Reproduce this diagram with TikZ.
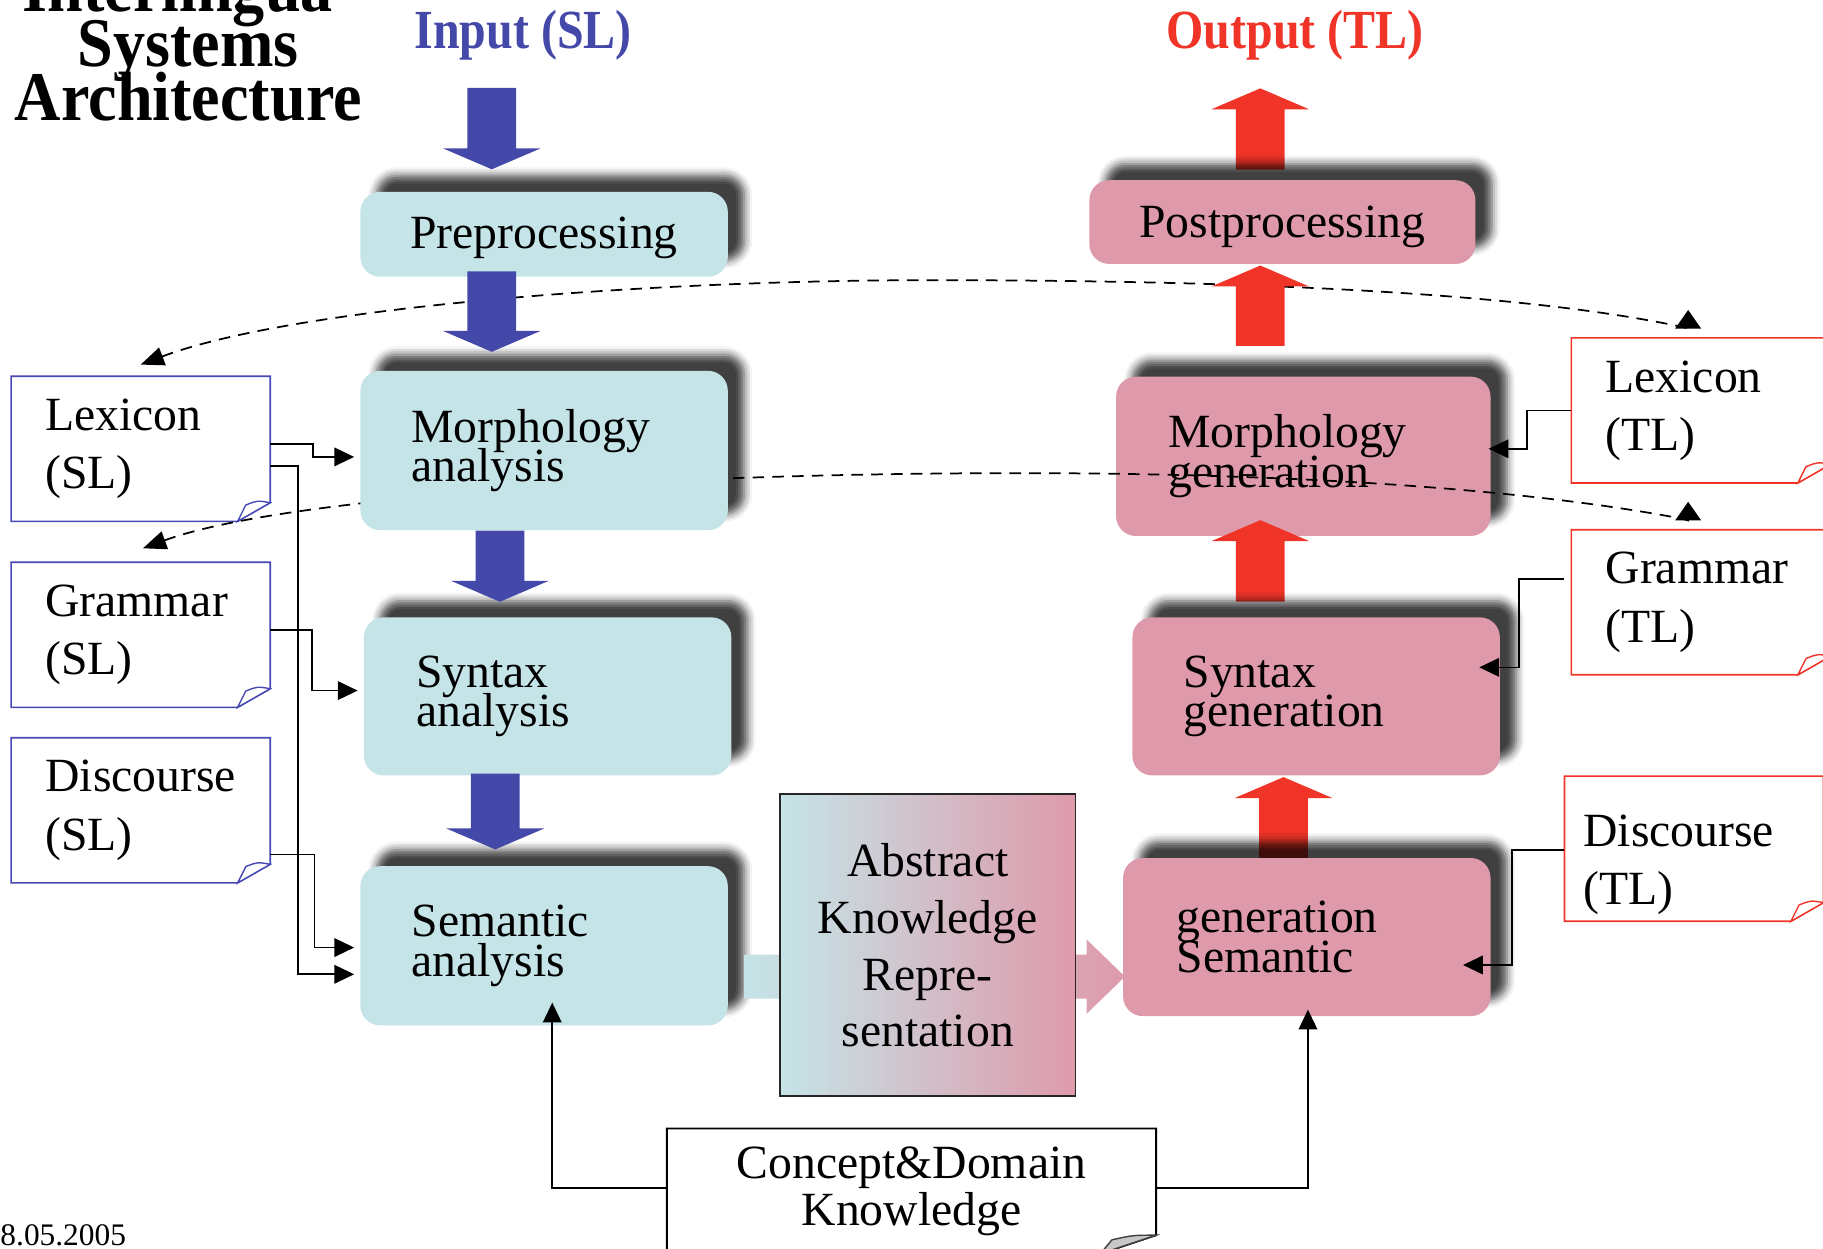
\documentclass[tikz,border=0pt]{standalone}
\usepackage{fontspec}
\usepackage{graphicx}
\setmainfont{Liberation Serif}
\usetikzlibrary{arrows.meta,calc,shadows.blur}

\definecolor{cyanbox}{RGB}{197,228,231}
\definecolor{pinkbox}{RGB}{222,154,171}
\definecolor{flowblue}{RGB}{68,72,168}
\definecolor{flowred}{RGB}{240,52,40}
\definecolor{docblue}{RGB}{70,72,180}
\definecolor{docred}{RGB}{240,52,40}

\newcommand\boxfont{\fontsize{20.5pt}{17pt}\selectfont\lineskiplimit=-40pt\relax}
\newcommand\docfont{\fontsize{20.5pt}{25pt}\selectfont\lineskiplimit=-40pt\relax}
\newcommand\absfont{\fontsize{20.5pt}{24.5pt}\selectfont\lineskiplimit=-40pt\relax}
\newcommand\concfont{\fontsize{20.5pt}{20pt}\selectfont\lineskiplimit=-40pt\relax}
\newcommand\titlefont{\fontsize{30pt}{23.5pt}\selectfont\bfseries\lineskiplimit=-40pt\relax}
\newcommand\headfont{\fontsize{23.7pt}{24pt}\selectfont\bfseries}

% fat block arrows: style, tail, tip
\newcommand\fatdown[3]{\fill[#1] let \p1=(#2), \p2=(#3) in
  (\x1-10.5pt,\y1) -- (\x1-10.5pt,\y2+9pt) -- (\x1-21pt,\y2+9pt) -- (\x1,\y2)
  -- (\x1+21pt,\y2+9pt) -- (\x1+10.5pt,\y2+9pt) -- (\x1+10.5pt,\y1) -- cycle;}
\newcommand\fatup[3]{\fill[#1] let \p1=(#2), \p2=(#3) in
  (\x1-10.5pt,\y1) -- (\x1-10.5pt,\y2-9pt) -- (\x1-21pt,\y2-9pt) -- (\x1,\y2)
  -- (\x1+21pt,\y2-9pt) -- (\x1+10.5pt,\y2-9pt) -- (\x1+10.5pt,\y1) -- cycle;}
\newcommand\fatright[3]{\path[#1] let \p1=(#2), \p2=(#3) in
  (\x1,\y2+9.5pt) -- (\x2-16.5pt,\y2+9.5pt) -- (\x2-16.5pt,\y2+16pt) -- (\x2,\y2)
  -- (\x2-16.5pt,\y2-16pt) -- (\x2-16.5pt,\y2-9.5pt) -- (\x1,\y2-9.5pt) -- cycle;}
% document frame with a curled lower right corner
\newcommand\docoutline[2]{%
  \draw[#2, line width=0.7pt] (#1.north west) -- (#1.north east)
    -- ($(#1.south east)+(0,-16)$) -- ($(#1.south east)+(-28,0)$) -- (#1.south west) -- cycle;
  \filldraw[#2, fill=white, line width=0.6pt] ($(#1.south east)+(-28,0)$)
    -- ($(#1.south east)+(-21,-14)$) .. controls ($(#1.south east)+(-11,-18)$) .. ($(#1.south east)+(0,-16)$) -- cycle;}

\begin{document}
\begin{tikzpicture}[x=0.5pt,y=-0.5pt,
  proc/.style={rounded corners=8.5pt, inner ysep=0pt, font=\boxfont,
    blur shadow={shadow xshift=7pt, shadow yshift=7pt, shadow blur radius=3.5pt, shadow opacity=75}},
  cyanproc/.style={proc, fill=cyanbox},
  pinkproc/.style={proc, fill=pinkbox},
  doc/.style={minimum width=111pt, minimum height=62pt, text width=82pt, inner xsep=14.5pt,
    inner ysep=0pt, align=left, font=\docfont},
  conn/.style={draw=black, line width=0.7pt, -{Triangle[length=8.5pt,width=8pt]}},
  dashconn/.style={draw=black, line width=0.75pt, dash pattern=on 5pt off 3.5pt,
    {Triangle[length=10pt,width=8pt]}-{Triangle[length=8pt,width=11pt]}},
]
\useasboundingbox (0,0) rectangle (1568,1074);
\clip (0,0) rectangle (1568,1074);

% headings
\node[font=\titlefont, align=center, anchor=south, inner sep=0pt] (title) at (162,105)
  {\scalebox{0.92}[1]{Interlingua-}\\\scalebox{0.92}[1]{Systems}\\\scalebox{0.92}[1]{Architecture}};
\node[font=\headfont, text=flowblue, anchor=base, inner sep=0pt] (inp) at (450,42) {\scalebox{0.87}[1]{Input (SL)}};
\node[font=\headfont, text=flowred, anchor=base, inner sep=0pt] (outp) at (1114,42) {\scalebox{0.87}[1]{Output (TL)}};
\node[font=\fontsize{13.5pt}{14pt}\selectfont, anchor=base west, inner sep=0pt] (date) at (0,1071) {8.05.2005};

% knowledge sources
\node[doc] (lexS) at (121,386) {Lexicon\\(SL)};
\node[doc] (gramS) at (121,546) {Grammar\\(SL)};
\node[doc] (discS) at (121,697) {Discourse\\(SL)};
\node[doc] (lexT) at (1463,353) {Lexicon\\(TL)};
\node[doc] (gramT) at (1463,518) {Grammar\\(TL)};
\node[doc, inner xsep=8pt, text width=95pt] (discT) at (1457,730) {\rule{0pt}{27.5pt}Discourse\\(TL)};
\docoutline{lexS}{docblue}
\docoutline{gramS}{docblue}
\docoutline{discS}{docblue}
\docoutline{lexT}{docred}
\docoutline{gramT}{docred}
\docoutline{discT}{docred}

% lexicon link between both languages
\draw[dashconn] ($(lexS.north)+(0,-10)$) .. controls (250,265) and (550,241) .. (800,241)
  .. controls (1050,241) and (1300,250) .. (1446,281) -- ($(lexT.north)+(-11,-8)$) -- ++(0,-16);

% generation side
\coordinate (b0tail) at (1084,146);
\coordinate (b0tip) at (1084,76);
\fatup{flowred}{b0tail}{b0tip}
\node[pinkproc, align=center, text width=148pt, inner xsep=9pt, minimum height=36pt] (postp) at (1103,191) {\rule{0pt}{17.5pt}Postprocessing};
\fatup{flowred}{$(postp.south)+(-19,70)$}{$(postp.south)+(-19,1)$}
\node[pinkproc, align=left, text width=116pt, inner xsep=22.5pt, minimum height=68.5pt] (morG) at (1121,392.5) {Morphology\\generation};
\draw[dashconn] ($(gramS.north)+(2,-12)$) .. controls (250,425) and (600,406) .. (900,407)
  .. controls (1150,408) and (1330,424) .. (1446,446) -- ($(gramT.north)+(-11,-8)$) -- ++(0,-16);
\fatup{flowred}{$(morG.south)+(-37,56)$}{$(morG.south)+(-37,-14)$}
\node[pinkproc, align=left, text width=114pt, inner xsep=22pt, minimum height=68pt] (synG) at (1132,599) {Syntax\\generation};
\fatup{flowred}{$(synG.south)+(-28,71)$}{$(synG.south)+(-28,1)$}
\node[pinkproc, align=left, text width=112pt, inner xsep=23pt, minimum height=68pt] (semG) at (1124,806) {generation\\Semantic};

% analysis side
\node[cyanproc, align=center, text width=140pt, inner xsep=9pt, minimum height=36.5pt] (pre) at (468,201.5) {\rule{0pt}{17pt}Preprocessing};
\node[cyanproc, align=left, text width=114pt, inner xsep=22pt, minimum height=68.5pt] (morA) at (468,387.5) {Morphology\\analysis};
\node[cyanproc, align=left, text width=113pt, inner xsep=22.5pt, minimum height=68pt] (synA) at (471,599) {Syntax\\analysis};
\node[cyanproc, align=left, text width=114pt, inner xsep=22pt, minimum height=68.5pt] (semA) at (468,813.5) {Semantic\\analysis};
\fatdown{flowblue}{$(pre.north)+(-45,-89)$}{$(pre.north)+(-45,-19)$}
\fatdown{flowblue}{$(pre.south)+(-45,-5)$}{$(morA.north)+(-45,-16)$}
\fatdown{flowblue}{$(morA.south)+(-38,0)$}{$(synA.north)+(-41,-13)$}
\fatdown{flowblue}{$(synA.south)+(-45,-2)$}{$(semA.north)+(-42,-14)$}

% transfer through the interlingua
\fatright{left color=cyanbox, right color=pinkbox}{$(semA.east)+(14,25.5)$}{$(semG.west)+(2,34)$}
\node[draw=black!85, line width=0.8pt, left color=cyanbox, right color=pinkbox,
  minimum width=127pt, minimum height=130pt, align=center, font=\absfont] (akr) at (798,813)
  {Abstract\\Knowledge\\Repre-\\sentation};

% concept and domain knowledge
\node[minimum width=210pt, minimum height=53.5pt, align=center, font=\concfont] (cdk) at (784,1024.5)
  {Concept\&Domain\\Knowledge};
\draw[line width=0.8pt] (cdk.north west) -- (cdk.north east) -- ($(cdk.south east)+(0,-16)$)
  -- ($(cdk.south east)+(-48,0)$) -- (cdk.south west) -- cycle;
\filldraw[fill=black!22, draw=black!75, line width=0.6pt] ($(cdk.south east)+(-48,0)$)
  -- ($(cdk.south east)+(-38,-12)$) .. controls ($(cdk.south east)+(-20,-16)$) .. ($(cdk.south east)+(0,-16)$) -- cycle;

% knowledge feeds
\draw[conn] ($(lexS.east)+(0,-4)$) -- ++(37,0) |- ($(morA.west)+(-5,5.5)$);
\draw[conn] ($(lexS.east)+(0,15)$) -- ++(24,0) |- ($(semA.west)+(-5,24.5)$);
\draw[conn] ($(gramS.east)+(0,-4)$) -- ++(36,0) |- ($(synA.west)+(-5,-5)$);
\draw[conn] ($(discS.east)+(0,38)$) -- ++(38,0) |- ($(semA.west)+(-5,1.5)$);
\draw[conn] (lexT.west) -- ++(-38,0) |- ($(morG.east)+(-2,-6.5)$);
\draw[conn] ($(gramT.west)+(-6,-20)$) -- ++(-39,0) |- ($(synG.east)+(-18,-25)$);
\draw[conn] ($(discT.west)+(0,1)$) -- ++(-45,0) |- ($(semG.east)+(-24,24)$);
\draw[conn] ($(cdk.west)+(0,-2.5)$) -| ($(semA.south)+(7,-20)$);
\draw[conn] ($(cdk.east)+(0,-2.5)$) -| ($(semG.south)+(1,-6)$);
\end{tikzpicture}
\end{document}
